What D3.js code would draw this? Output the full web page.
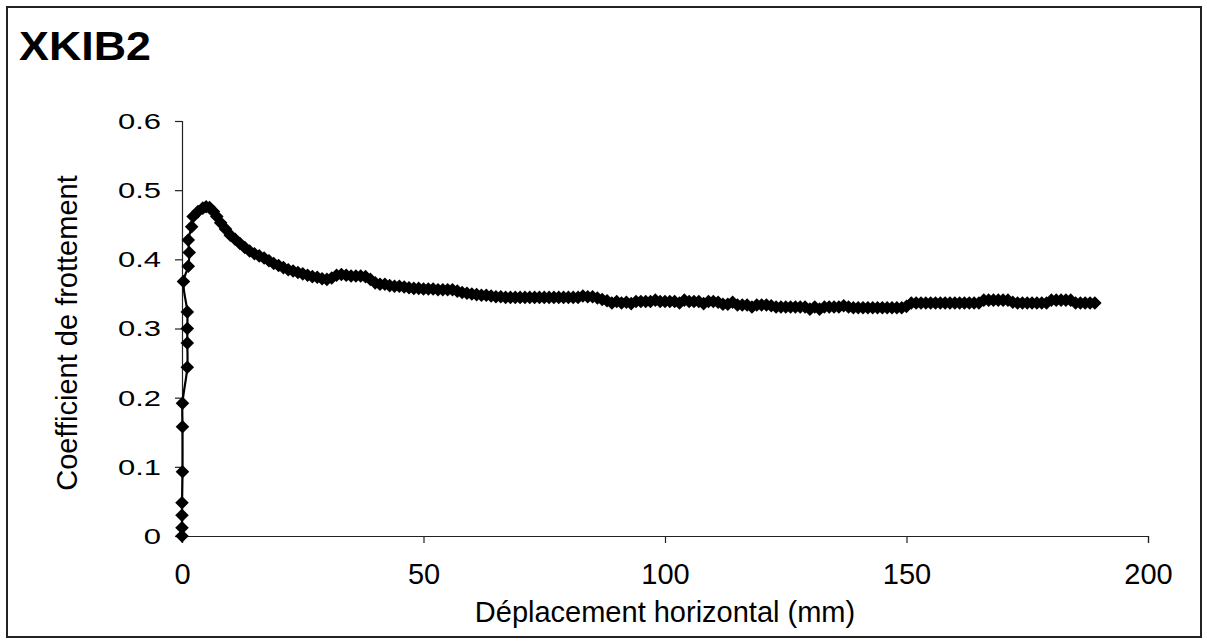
<!DOCTYPE html>
<html><head><meta charset="utf-8">
<script src="https://cdn.jsdelivr.net/npm/d3@7"></script>
<style>
html,body{margin:0;padding:0;background:#fff;}
svg text{font-family:"Liberation Sans",Arial,sans-serif;fill:#000;}
</style></head>
<body><svg id="chart" width="1207" height="644"></svg>
<script>
const chartTitle = "XKIB2";
const xTitle = "Déplacement horizontal (mm)";
const yTitle = "Coefficient de frottement";
const xTickValues = [0, 50, 100, 150, 200];
const xTickLabels = ["0", "50", "100", "150", "200"];
const yTickValues = [0, 0.1, 0.2, 0.3, 0.4, 0.5, 0.6];
const yTickLabels = ["0", "0.1", "0.2", "0.3", "0.4", "0.5", "0.6"];

// initial rise (mm, coefficient)
const riseX = [0,0,0,0,0.1,0.1,0.1,1.1,1.1,1.1,1.1,0.3,1.3,1.5,1.3,2.0,2.3,3.3,4.3,5.0,5.7,6.5,7.2];
const riseY = [0,0.012,0.03,0.048,0.093,0.158,0.192,0.244,0.279,0.300,0.324,0.368,0.390,0.410,0.428,0.447,0.462,0.469,0.474,0.476,0.475,0.469,0.462];

// sliding part
const slideX = [
  8,9,10,11,12,13,14,15,16,17,
  18,19,20,21,22,23,24,25,26,27,
  28,29,30,31,32,33,34,35,36,37,
  38,39,40,41,42,43,44,45,46,47,
  48,49,50,51,52,53,54,55,56,57,
  58,59,60,61,62,63,64,65,66,67,
  68,69,70,71,72,73,74,75,76,77,
  78,79,80,81,82,83,84,85,86,87,
  88,89,90,91,92,93,94,95,96,97,
  98,99,100,101,102,103,104,105,106,107,
  108,109,110,111,112,113,114,115,116,117,
  118,119,120,121,122,123,124,125,126,127,
  128,129,130,131,132,133,134,135,136,137,
  138,139,140,141,142,143,144,145,146,147,
  148,149,150,151,152,153,154,155,156,157,
  158,159,160,161,162,163,164,165,166,167,
  168,169,170,171,172,173,174,175,176,177,
  178,179,180,181,182,183,184,185,186,187,
  188,189
];
const slideY = [
  0.453,0.444,0.435,0.429,0.423,0.417,0.412,0.408,0.405,0.402,
  0.398,0.394,0.391,0.388,0.385,0.383,0.381,0.379,0.377,0.375,
  0.374,0.372,0.371,0.373,0.377,0.378,0.377,0.376,0.376,0.376,
  0.375,0.371,0.366,0.364,0.364,0.362,0.361,0.361,0.360,0.359,
  0.358,0.358,0.357,0.357,0.357,0.356,0.356,0.356,0.356,0.354,
  0.352,0.351,0.350,0.349,0.348,0.348,0.347,0.346,0.346,0.345,
  0.345,0.345,0.345,0.345,0.345,0.345,0.345,0.345,0.345,0.345,
  0.345,0.345,0.345,0.345,0.345,0.347,0.346,0.346,0.344,0.342,
  0.340,0.337,0.339,0.337,0.338,0.336,0.339,0.339,0.339,0.339,
  0.341,0.339,0.339,0.339,0.339,0.337,0.341,0.339,0.339,0.339,
  0.336,0.339,0.339,0.338,0.335,0.335,0.338,0.334,0.334,0.334,
  0.331,0.334,0.334,0.334,0.333,0.331,0.331,0.331,0.331,0.331,
  0.331,0.331,0.328,0.331,0.328,0.331,0.331,0.331,0.331,0.333,
  0.331,0.330,0.330,0.330,0.330,0.330,0.330,0.330,0.330,0.330,
  0.330,0.330,0.332,0.337,0.337,0.337,0.337,0.337,0.337,0.337,
  0.337,0.337,0.337,0.337,0.337,0.337,0.337,0.337,0.341,0.341,
  0.341,0.341,0.341,0.341,0.338,0.337,0.337,0.337,0.337,0.337,
  0.337,0.337,0.341,0.341,0.341,0.341,0.341,0.337,0.337,0.337,
  0.337,0.337
];

const data = riseX.map((x,i)=>({x, y: riseY[i]}))
  .concat(slideX.map((x,i)=>({x, y: slideY[i]})));

const svg = d3.select("#chart");

// outer chart border
svg.append("rect").attr("x",7).attr("y",7).attr("width",1194).attr("height",630)
  .attr("fill","#fff").attr("stroke","#222").attr("stroke-width",2);

const x = d3.scaleLinear().domain([0,200]).range([182,1148]);
const y = d3.scaleLinear().domain([0,0.6]).range([536,121]);

// title
svg.append("text").attr("x",19).attr("y",60).attr("font-size",41).attr("font-weight","bold")
  .attr("textLength",132).attr("lengthAdjust","spacingAndGlyphs").text(chartTitle);

// axes
const yAxis = d3.axisLeft(y).tickValues(yTickValues).tickSize(7).tickPadding(14)
  .tickFormat((d,i)=>yTickLabels[i]);
const gy = svg.append("g").attr("transform","translate(182,0)").call(yAxis);
gy.select(".domain").attr("stroke","#222").attr("stroke-width",1.2);
gy.selectAll(".tick line").attr("stroke","#222").attr("stroke-width",1.2);
gy.selectAll(".tick text").attr("font-size",31).attr("font-family","Liberation Sans, Arial, sans-serif")
  .attr("transform","scale(1,0.74)");

const xAxis = d3.axisBottom(x).tickValues(xTickValues).tickSize(7).tickPadding(20)
  .tickFormat((d,i)=>xTickLabels[i]);
const gx = svg.append("g").attr("transform","translate(0,536)").call(xAxis);
gx.select(".domain").attr("stroke","#222").attr("stroke-width",1.2);
gx.selectAll(".tick line").attr("stroke","#222").attr("stroke-width",1.2);
gx.selectAll(".tick text").attr("font-size",29).attr("font-family","Liberation Sans, Arial, sans-serif")
  .attr("y",27).attr("dy","0.71em");

// axis titles
svg.append("text").attr("x",665).attr("y",622).attr("text-anchor","middle").attr("font-size",29).text(xTitle);
svg.append("text").attr("transform","translate(77,333) rotate(-90)").attr("text-anchor","middle")
  .attr("font-size",29).text(yTitle);

// series line
const line = d3.line().x(d=>x(d.x)).y(d=>y(d.y)).curve(d3.curveCatmullRom.alpha(0.5));
svg.append("path").datum(data).attr("d",line).attr("fill","none").attr("stroke","#000").attr("stroke-width",2.2);

// diamond markers
const diamond = d3.symbol().type(d3.symbolSquare).size(92);
svg.append("g").selectAll("path").data(data).join("path")
  .attr("d",diamond)
  .attr("transform",d=>`translate(${x(d.x)},${y(d.y)}) rotate(45)`)
  .attr("fill","#000");
</script></body></html>
